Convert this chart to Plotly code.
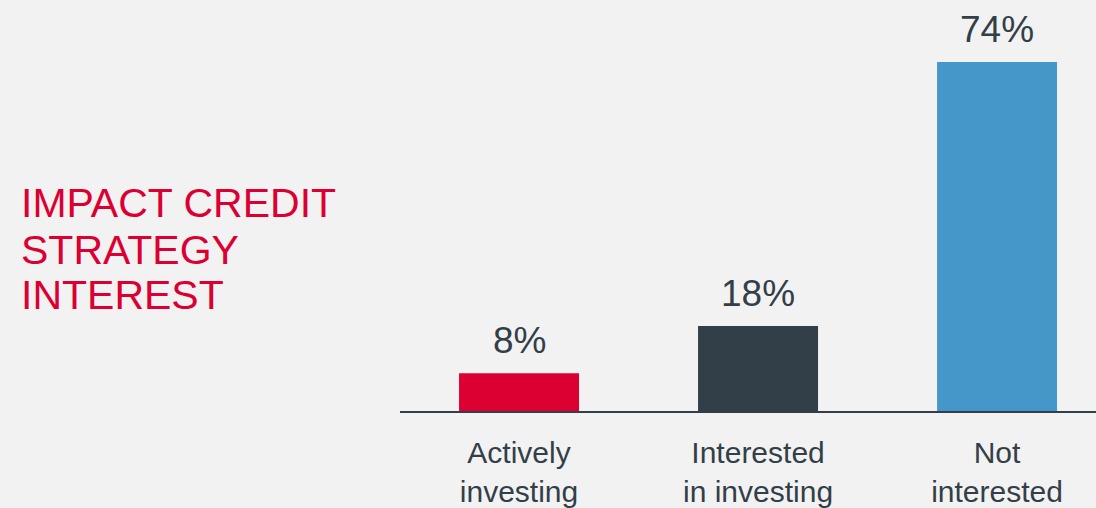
import plotly.graph_objects as go

# Survey responses: share of respondents per level of interest
categories = ["Actively<br>investing", "Interested<br>in investing", "Not<br>interested"]
shares = [8, 18, 74]
value_labels = ["8%", "18%", "74%"]
bar_colors = ["#dc0032", "#333f48", "#4597c9"]
title_lines = ["IMPACT CREDIT", "STRATEGY", "INTEREST"]

BG = "#f2f2f2"
INK = "#333f48"
FONT = "Liberation Sans, Arial, sans-serif"

fig = go.Figure(
    go.Bar(
        x=list(range(len(categories))),
        y=shares,
        marker=dict(color=bar_colors, line=dict(width=0)),
        width=0.502,
        hoverinfo="skip",
    )
)

annotations = []
# Percentage labels floating above each bar
for i, (v, lab) in enumerate(zip(shares, value_labels)):
    annotations.append(dict(
        x=i, y=v, xref="x", yref="y", text=lab, showarrow=False,
        xanchor="center", yanchor="middle", yshift=33,
        font=dict(family=FONT, size=37, color=INK),
    ))

# Red heading on the left, one line per annotation for tight leading
title_y = [0.507, 0.392, 0.283]
for line, ty in zip(title_lines, title_y):
    annotations.append(dict(
        x=-0.5474, y=ty, xref="paper", yref="paper", text=line, showarrow=False,
        xanchor="left", yanchor="middle",
        font=dict(family=FONT, size=41, color=bar_colors[0]),
    ))

fig.update_layout(
    width=1096, height=508,
    margin=dict(l=400, r=0, t=0, b=97),
    paper_bgcolor=BG, plot_bgcolor=BG,
    showlegend=False,
    annotations=annotations,
    xaxis=dict(
        range=[-0.498, 2.414],
        tickmode="array",
        tickvals=list(range(len(categories))),
        ticktext=categories,
        showgrid=False, zeroline=False,
        showline=True, linecolor=INK, linewidth=2,
        ticks="",
        ticklabelstandoff=14,
        tickfont=dict(family=FONT, size=30, color=INK),
        fixedrange=True,
    ),
    yaxis=dict(
        range=[0, 87.15],
        visible=False,
        showgrid=False, zeroline=False,
        fixedrange=True,
    ),
)

fig.write_html("out.html", config=dict(displayModeBar=False))
